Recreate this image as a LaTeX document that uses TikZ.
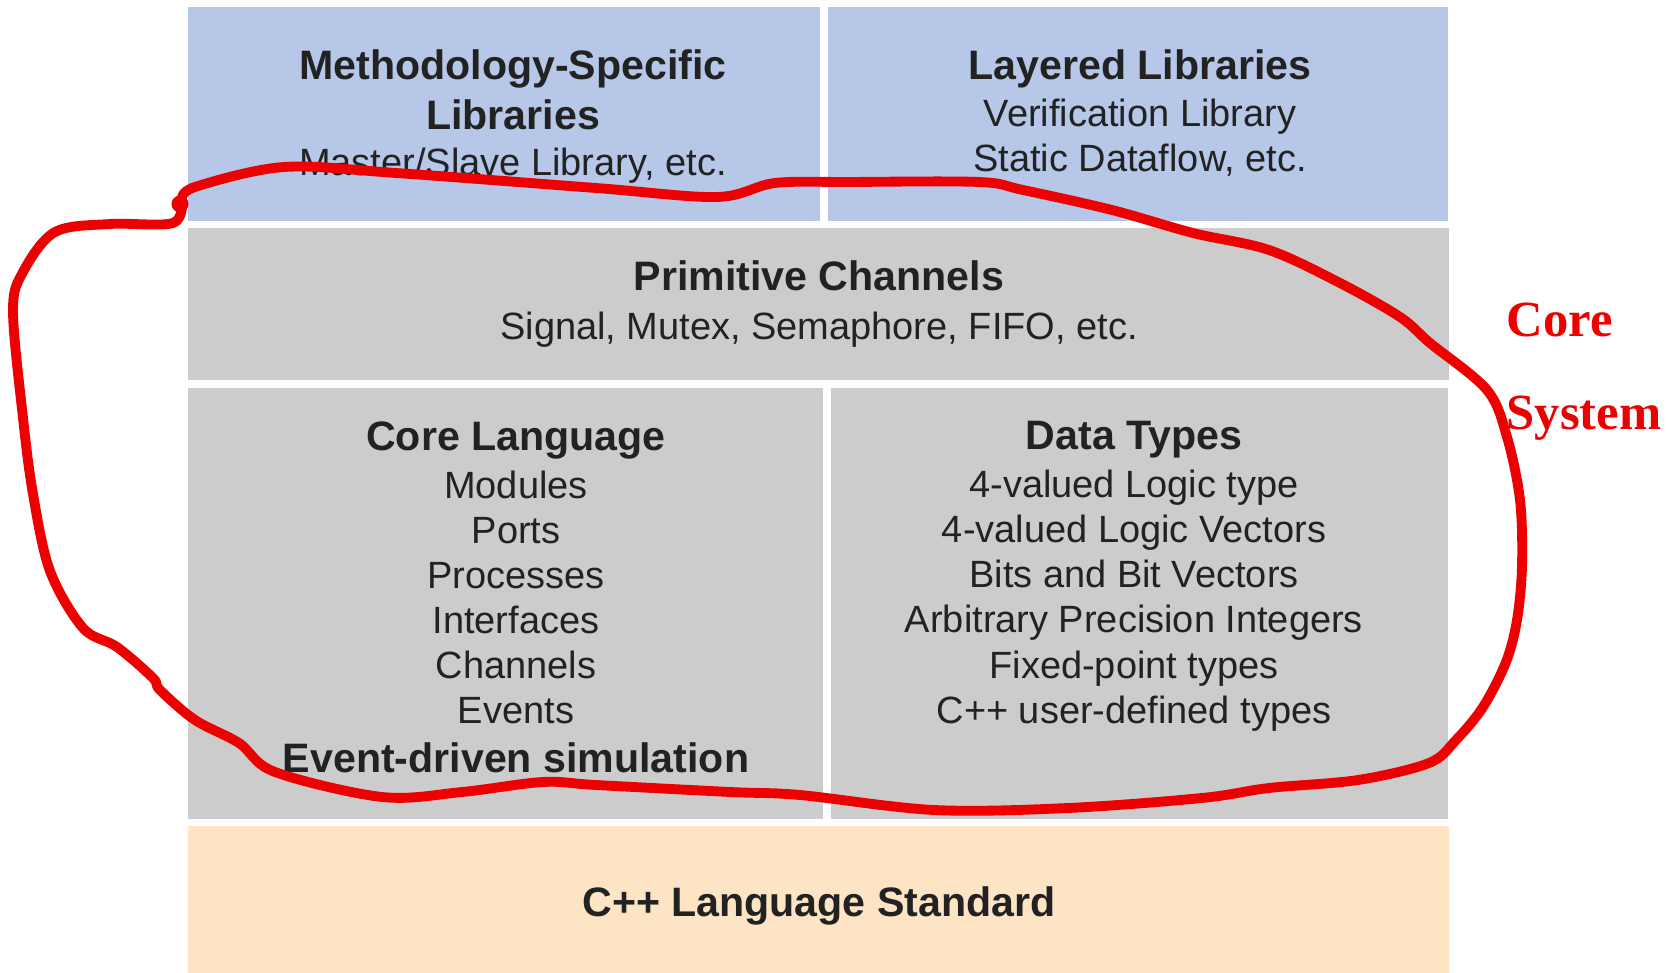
\documentclass[tikz,border=0pt]{standalone}
\usepackage{fontspec}
\setmainfont{Liberation Sans}
\newfontfamily\notefont{Liberation Serif}
\usepackage{xcolor}
\usepackage{tikz}
\usetikzlibrary{positioning}

\definecolor{libblue}{RGB}{182,199,232}
\definecolor{coregray}{RGB}{204,204,204}
\definecolor{cppbeige}{RGB}{252,228,196}
\definecolor{inkdark}{RGB}{34,34,34}
\definecolor{markred}{RGB}{236,0,0}

\newcommand{\hd}[1]{{\fontsize{11.7}{12.8}\selectfont\bfseries #1}}

\begin{document}
\begin{tikzpicture}[
    x=0.01cm, y=-0.01cm,
    layer/.style={anchor=north west, inner sep=0pt, outer sep=0pt},
    txt/.style={align=center, text=inkdark, inner sep=0pt,
                font=\fontsize{10.8}{12.8}\selectfont},
    loopline/.style={draw=markred, line width=2.8pt, line cap=round, line join=round},
  ]
  \useasboundingbox (0,0) rectangle (1675,973);
  % Library layer
  \node[layer, fill=libblue, minimum width=6.32cm, minimum height=2.135cm] (meth) at (188,7.5) {};
  \node[layer, fill=libblue, minimum width=6.20cm, minimum height=2.135cm] (layered) at (828,7.5) {};
  % Channels and core
  \node[layer, fill=coregray, minimum width=12.60cm, minimum height=1.515cm] (prim) at (188,228.5) {};
  \node[layer, fill=coregray, minimum width=6.35cm, minimum height=4.31cm] (corelang) at (188,388) {};
  \node[layer, fill=coregray, minimum width=6.17cm, minimum height=4.31cm] (dtypes) at (831,388) {};
  % Base language
  \node[layer, fill=cppbeige, minimum width=12.60cm, minimum height=1.47cm] (cppstd) at (188,826) {};

  \node[txt] (methtxt) at (513,117)
    {\hd{Methodology-Specific}\\[1.2pt] \hd{Libraries}\\[0.5pt] Master/Slave Library, etc.};
  \node[txt] (laytxt) at (1140,113)
    {\hd{Layered Libraries}\\[0.5pt] Verification Library\\ Static Dataflow, etc.};
  \node[txt] (primtxt) at (819,304)
    {\hd{Primitive Channels}\\[1pt] Signal, Mutex, Semaphore, FIFO, etc.};
  \node[txt] (langtxt) at (516,597)
    {\hd{Core Language}\\[1pt] Modules\\ Ports\\ Processes\\ Interfaces\\ Channels\\ Events\\[1pt]
     \hd{Event-driven simulation}};
  \node[txt] (typetxt) at (1134,576)
    {\hd{Data Types}\\[1pt] 4-valued Logic type\\ 4-valued Logic Vectors\\ Bits and Bit Vectors\\
     Arbitrary Precision Integers\\ Fixed-point types\\ C++ user-defined types};
  \node[txt] (cpptxt) at (819,906) {\hd{C++ Language Standard}};

  % hand-drawn outline round the core
  \draw[loopline] plot[smooth, tension=0.55] coordinates {
    (182,200) (195,187) (284,167) (396,173) (596,188) (717,197) (775,183) (850,182)
    (979,182) (1023,190) (1112,210) (1193,233) (1269,250) (1340,283) (1400,317)
    (1430,343) (1487,390) (1507,437) (1520,500) (1522,566) (1517,620) (1506,662)
    (1483,707) (1456,740) (1429,763) (1358,780) (1269,788) (1202,798) (1068,808)
    (934,810) (800,795) (730,792) (596,785) (543,782) (462,792) (382,797) (275,772)
    (239,743) (195,720) (160,690) (153,678) (117,647) (83,628) (50,571) (33,494)
    (23,418) (13,311) (23,272) (55,232) (110,224) (173,223) (182,200)};
  \fill[markred] (180,204) circle (0.085cm);

  \node[anchor=north west, inner sep=0pt, align=left, text=markred,
        font=\notefont\bfseries\fontsize{14.4}{26.4}\selectfont] (coresys) at (1506,302)
    {Core\\ System};
\end{tikzpicture}
\end{document}
